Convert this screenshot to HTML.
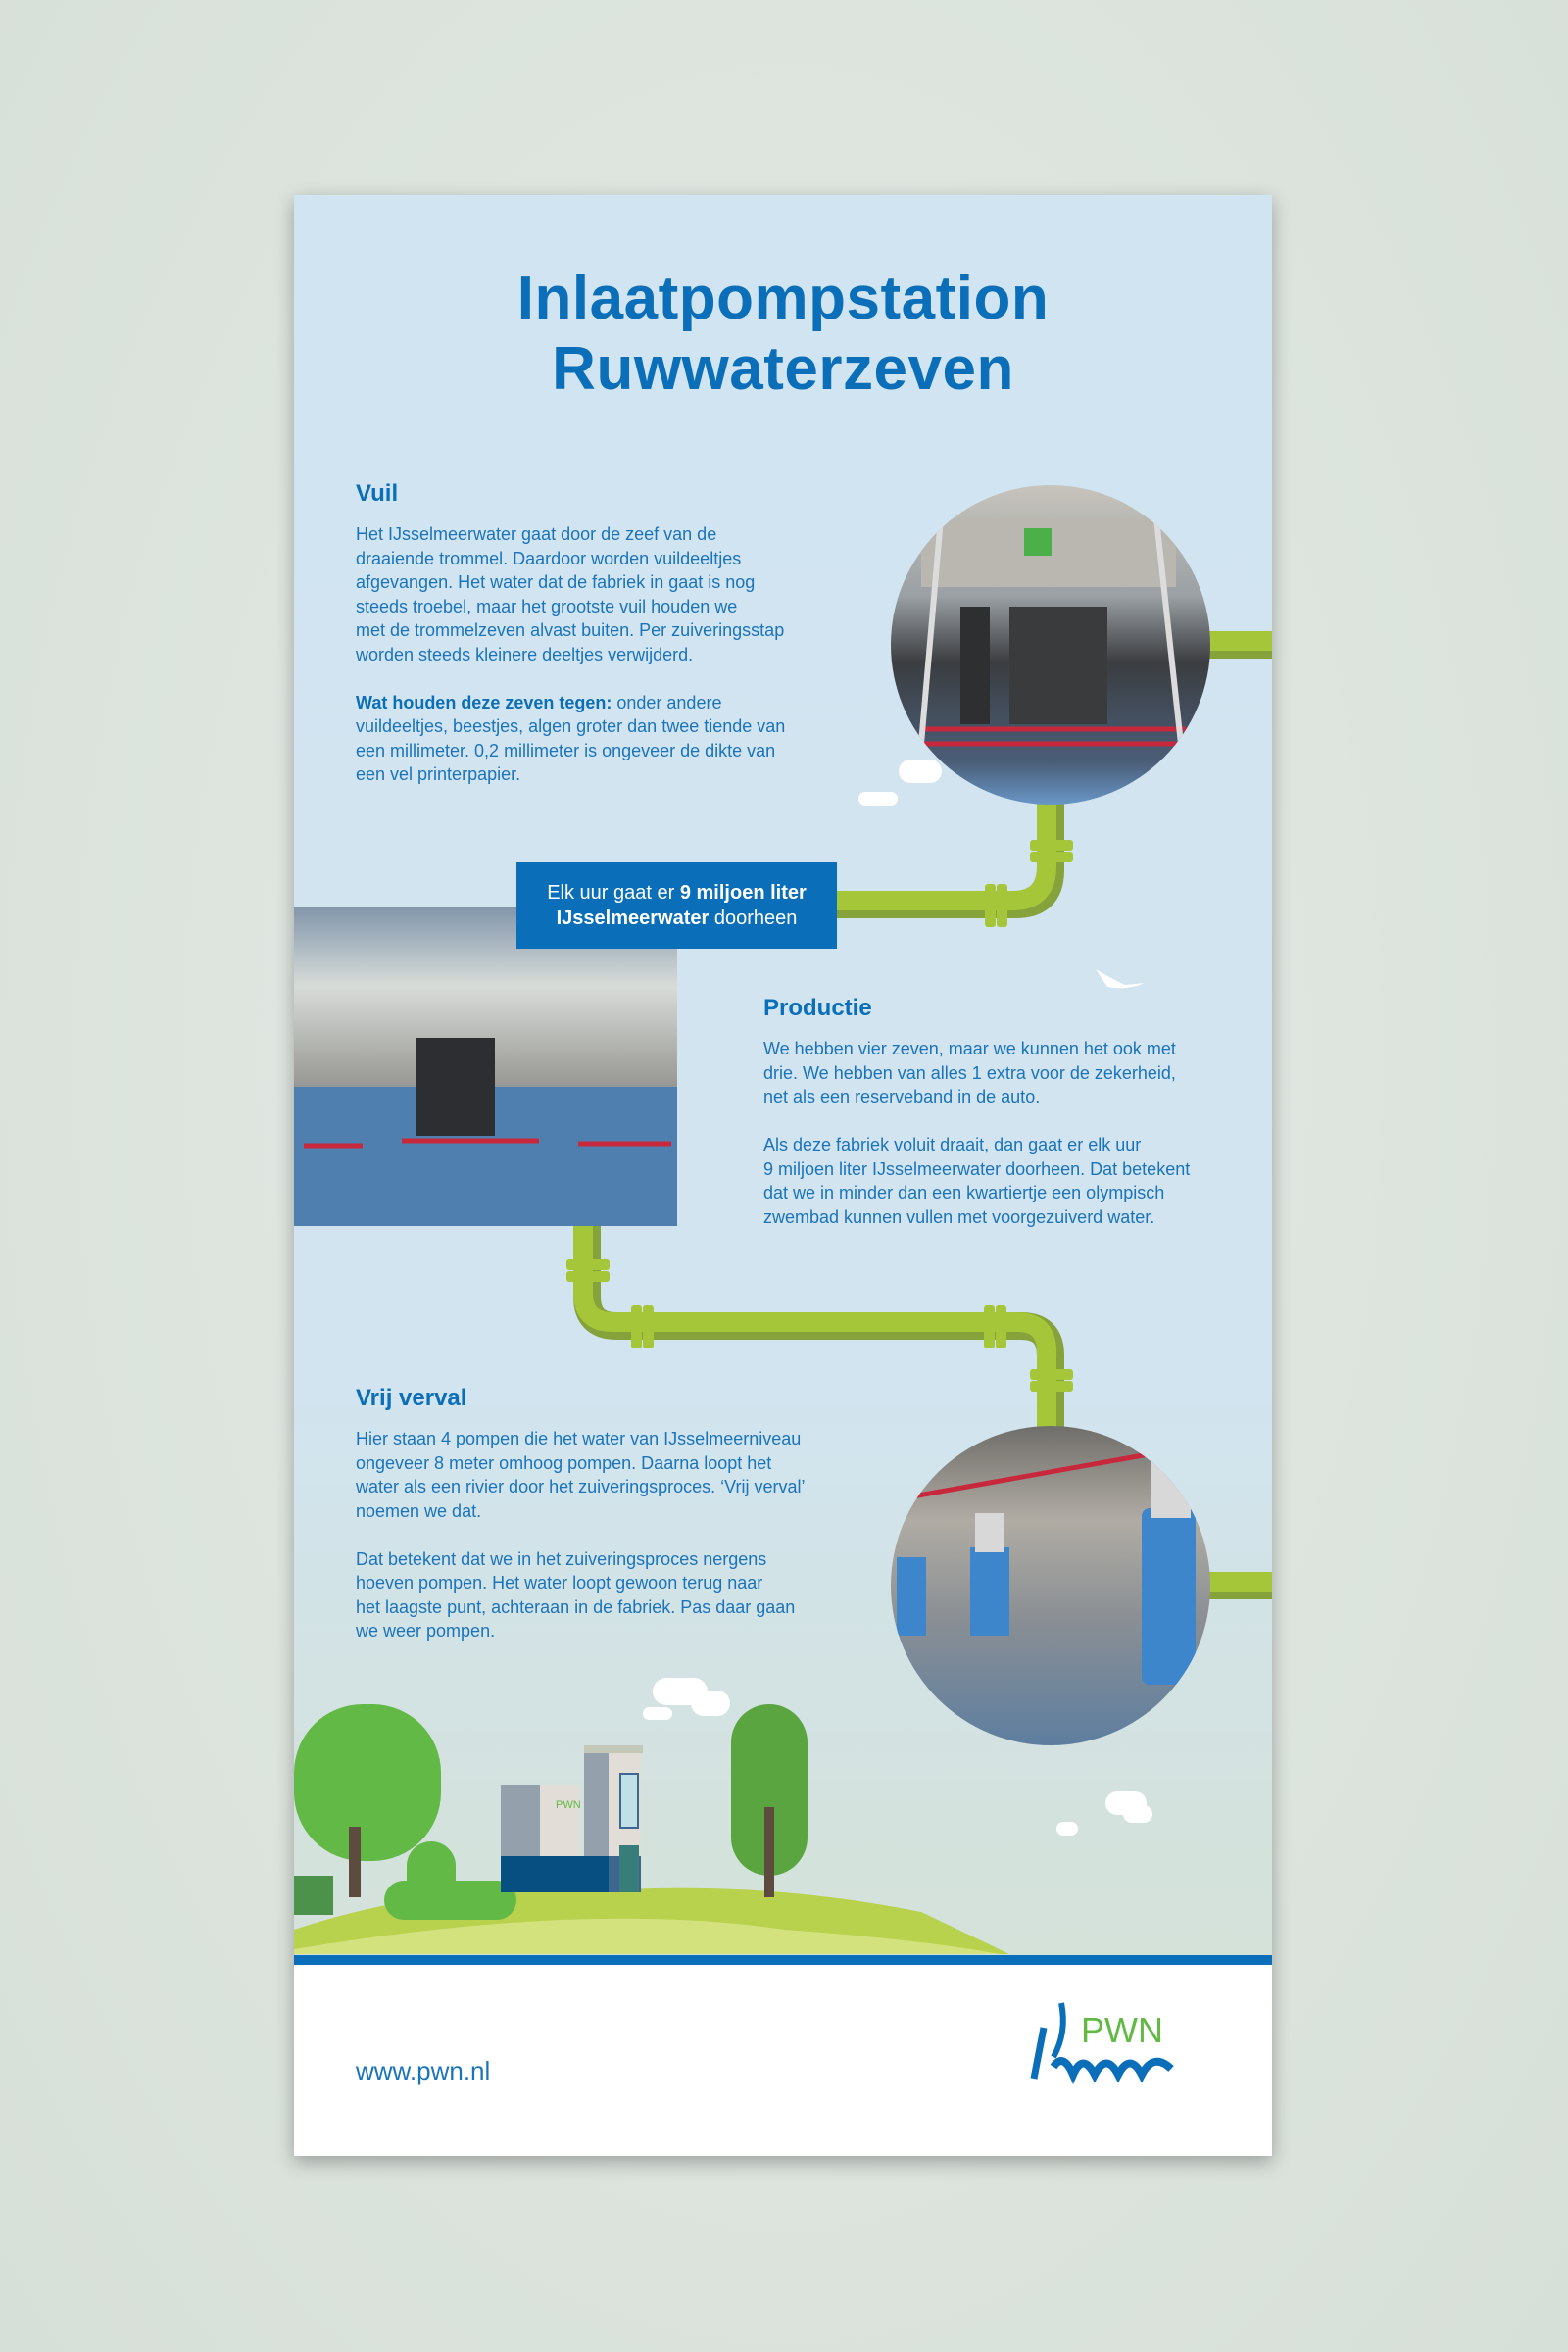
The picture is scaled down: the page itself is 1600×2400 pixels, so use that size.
<!DOCTYPE html>
<html><head><meta charset="utf-8"><style>
*{margin:0;padding:0;box-sizing:border-box}
body{width:1600px;height:2400px;background:radial-gradient(ellipse at 50% 45%,#e6ebe6 0%,#d6dfd8 100%);font-family:"Liberation Sans",sans-serif;position:relative;overflow:hidden}
#poster{position:absolute;left:300px;top:199px;width:998px;height:2001px;background:linear-gradient(#d1e4f1 0%,#d1e4f0 60%,#d4e2dc 85%,#d4e2d6 100%);box-shadow:0 6px 18px rgba(0,0,0,.3);overflow:hidden}
.abs{position:absolute}
h1{position:absolute;left:0;width:998px;top:70px;text-align:center;color:#0a6fb8;font-size:62px;line-height:72px;font-weight:bold;letter-spacing:.5px}
h2{position:absolute;color:#0a6fb8;font-size:24px;font-weight:bold}
.t{position:absolute;color:#1a74bb;font-size:18px;line-height:24.5px;white-space:nowrap}
.t b{color:#0a6fb8}
.cloud{position:absolute;background:#fff;border-radius:20px}
</style></head><body>
<div id="poster">
<h1>Inlaatpompstation<br>Ruwwaterzeven</h1>
<h2 style="left:63px;top:291px">Vuil</h2>
<div class="t" style="left:63px;top:334px">Het IJsselmeerwater gaat door de zeef van de<br>draaiende trommel. Daardoor worden vuildeeltjes<br>afgevangen. Het water dat de fabriek in gaat is nog<br>steeds troebel, maar het grootste vuil houden we<br>met de trommelzeven alvast buiten. Per zuiveringsstap<br>worden steeds kleinere deeltjes verwijderd.<br><br><b>Wat houden deze zeven tegen:</b> onder andere<br>vuildeeltjes, beestjes, algen groter dan twee tiende van<br>een millimeter. 0,2 millimeter is ongeveer de dikte van<br>een vel printerpapier.</div>

<h2 style="left:479px;top:816px">Productie</h2>
<div class="t" style="left:479px;top:859px">We hebben vier zeven, maar we kunnen het ook met<br>drie. We hebben van alles 1 extra voor de zekerheid,<br>net als een reserveband in de auto.<br><br>Als deze fabriek voluit draait, dan gaat er elk uur<br>9 miljoen liter IJsselmeerwater doorheen. Dat betekent<br>dat we in minder dan een kwartiertje een olympisch<br>zwembad kunnen vullen met voorgezuiverd water.</div>

<h2 style="left:63px;top:1214px">Vrij verval</h2>
<div class="t" style="left:63px;top:1257px">Hier staan 4 pompen die het water van IJsselmeerniveau<br>ongeveer 8 meter omhoog pompen. Daarna loopt het<br>water als een rivier door het zuiveringsproces. ‘Vrij verval’<br>noemen we dat.<br><br>Dat betekent dat we in het zuiveringsproces nergens<br>hoeven pompen. Het water loopt gewoon terug naar<br>het laagste punt, achteraan in de fabriek. Pas daar gaan<br>we weer pompen.</div>

<div class="cloud" style="left:617px;top:576px;width:44px;height:24px"></div>
<div class="cloud" style="left:576px;top:609px;width:40px;height:14px"></div>
<div class="cloud" style="left:366px;top:1513px;width:56px;height:28px"></div>
<div class="cloud" style="left:405px;top:1526px;width:40px;height:26px"></div>
<div class="cloud" style="left:356px;top:1543px;width:30px;height:13px"></div>
<div class="cloud" style="left:828px;top:1629px;width:42px;height:24px"></div>
<div class="cloud" style="left:846px;top:1643px;width:30px;height:18px"></div>
<div class="cloud" style="left:778px;top:1660px;width:22px;height:14px"></div>

<svg class="abs" style="left:0;top:0" width="998" height="2001">
<defs>
<linearGradient id="g1" x1="0" y1="0" x2="0" y2="1"><stop offset="0" stop-color="#c9c6bd"/><stop offset=".35" stop-color="#9aa0a4"/><stop offset=".55" stop-color="#3b3d40"/><stop offset=".85" stop-color="#4b5e78"/><stop offset="1" stop-color="#6ea1d6"/></linearGradient>
<linearGradient id="g2" x1="0" y1="0" x2="0" y2="1"><stop offset="0" stop-color="#6c6a66"/><stop offset=".3" stop-color="#b0aca4"/><stop offset=".6" stop-color="#8a8f94"/><stop offset="1" stop-color="#5b7da0"/></linearGradient>
<linearGradient id="g3" x1="0" y1="0" x2="0" y2="1"><stop offset="0" stop-color="#8296ab"/><stop offset=".25" stop-color="#d8dcd8"/><stop offset=".55" stop-color="#9a9a96"/><stop offset=".7" stop-color="#3d6fa6"/><stop offset="1" stop-color="#5580aa"/></linearGradient>
<clipPath id="c1"><circle cx="772" cy="459" r="163"/></clipPath>
<clipPath id="c2"><circle cx="772" cy="1419" r="163"/></clipPath>
</defs>
<g fill="none" stroke-linecap="butt">
<path d="M934 459H998M934 1419H998" stroke="#86a23a" stroke-width="28"/>
<path d="M934 455H998M934 1415H998" stroke="#a4c638" stroke-width="20"/>
<path d="M772 560V689Q772 724 737 724H250" stroke="#86a23a" stroke-width="28"/>
<path d="M768 560V685Q768 720 733 720H250" stroke="#a4c638" stroke-width="20"/>
<path d="M299 1050V1124Q299 1154 329 1154H742Q772 1154 772 1184V1260" stroke="#86a23a" stroke-width="28"/>
<path d="M295 1050V1120Q295 1150 325 1150H738Q768 1150 768 1180V1260" stroke="#a4c638" stroke-width="20"/>
</g>
<g fill="#a4c638">
<rect x="751" y="658" width="44" height="11" rx="3"/><rect x="751" y="670" width="44" height="11" rx="3"/>
<rect x="705" y="703" width="11" height="44" rx="3"/><rect x="717" y="703" width="11" height="44" rx="3"/>
<rect x="278" y="1086" width="44" height="11" rx="3"/><rect x="278" y="1098" width="44" height="11" rx="3"/>
<rect x="344" y="1133" width="11" height="44" rx="3"/><rect x="356" y="1133" width="11" height="44" rx="3"/>
<rect x="704" y="1133" width="11" height="44" rx="3"/><rect x="716" y="1133" width="11" height="44" rx="3"/>
<rect x="751" y="1198" width="44" height="11" rx="3"/><rect x="751" y="1210" width="44" height="11" rx="3"/>
</g>
<g clip-path="url(#c1)">
<rect x="600" y="290" width="350" height="340" fill="url(#g1)"/>
<rect x="640" y="330" width="260" height="70" fill="#b9b7b0"/>
<path d="M640 545H910M640 560H910" stroke="#c8283c" stroke-width="5"/>
<path d="M660 330L640 560M880 330L905 560" stroke="#dcdcdc" stroke-width="6"/>
<rect x="680" y="420" width="30" height="120" fill="#2d2f31"/><rect x="730" y="420" width="100" height="120" fill="#3a3b3d"/>
<rect x="745" y="340" width="28" height="28" fill="#4bb04a"/>
</g>
<g clip-path="url(#c2)">
<rect x="600" y="1250" width="350" height="340" fill="url(#g2)"/>
<path d="M620 1330L900 1280" stroke="#c8283c" stroke-width="5"/>
<rect x="865" y="1340" width="55" height="180" rx="8" fill="#3d86cc"/><rect x="875" y="1290" width="40" height="60" fill="#d8d8d8"/>
<rect x="690" y="1380" width="40" height="90" fill="#3d86cc"/><rect x="695" y="1345" width="30" height="40" fill="#d8d8d8"/>
<rect x="615" y="1390" width="30" height="80" fill="#3d86cc"/>
</g>
<rect x="0" y="726" width="391" height="326" fill="url(#g3)"/>
<rect x="0" y="910" width="391" height="142" fill="#4f7fae"/>
<path d="M10 970H70M110 965H250M290 968H385" stroke="#c8283c" stroke-width="5"/>
<rect x="125" y="860" width="80" height="100" fill="#2c2e31"/>
<path d="M818 790Q835 800 848 806L868 804Q850 812 830 808Z" fill="#fff"/>
<path d="M0 1770Q150 1720 320 1730Q480 1720 640 1752Q720 1790 730 1795H0Z" fill="#b9d24e"/>
<path d="M0 1790Q300 1740 500 1770Q640 1780 720 1795H0Z" fill="#d3e27d"/>
<rect x="0" y="1540" width="150" height="160" rx="70" fill="#63b946"/>
<rect x="56" y="1665" width="12" height="72" fill="#5e4b3f"/>
<rect x="446" y="1540" width="78" height="175" rx="39" fill="#5aa540"/>
<rect x="480" y="1645" width="10" height="92" fill="#5e4b3f"/>
<rect x="0" y="1715" width="40" height="40" fill="#4d924a"/>
<rect x="115" y="1680" width="50" height="80" rx="25" fill="#63b946"/>
<rect x="92" y="1720" width="135" height="40" rx="20" fill="#63b946"/>
<rect x="211" y="1622" width="40" height="110" fill="#94a0ab"/>
<rect x="251" y="1622" width="40" height="110" fill="#e2ddd7"/>
<rect x="296" y="1588" width="25" height="144" fill="#94a0ab"/>
<rect x="321" y="1588" width="33" height="144" fill="#e2ddd7"/>
<rect x="296" y="1582" width="60" height="8" fill="#c3c8b9"/>
<rect x="211" y="1695" width="143" height="37" fill="#064f80"/>
<rect x="321" y="1695" width="33" height="37" fill="#3d6790"/>
<rect x="332" y="1684" width="20" height="48" fill="#377e7a"/>
<rect x="333" y="1611" width="18" height="55" fill="#bfe0e6" stroke="#3d6790" stroke-width="2"/>
<text x="267" y="1646" font-size="11" fill="#63b946" font-family="Liberation Sans">PWN</text>
</svg>
<div class="abs" style="left:227px;top:681px;width:327px;height:88px;background:#0a6fb8;color:#fff;font-size:20px;line-height:26px;text-align:center;padding-top:18px">Elk uur gaat er <b>9 miljoen liter<br>IJsselmeerwater</b> doorheen</div>
<div class="abs" style="left:0;top:1796px;width:998px;height:10px;background:#0a6fb8"></div>
<div class="abs" style="left:0;top:1806px;width:998px;height:195px;background:#fff"></div>
<div class="abs" style="left:63px;top:1899px;color:#1a74bb;font-size:26px">www.pwn.nl</div>
<svg class="abs" style="left:745px;top:1840px" width="200" height="90">
<path d="M10 82L20 30" stroke="#0a6fb8" stroke-width="7"/>
<path d="M38 5Q44 35 30 60" stroke="#0a6fb8" stroke-width="6" fill="none"/>
<path d="M30 70Q40 55 50 78Q60 55 72 78Q84 55 96 78Q108 55 120 78Q132 55 150 72" stroke="#0a6fb8" stroke-width="8" fill="none"/>
<text x="58" y="45" font-size="36" fill="#63b946" font-family="Liberation Sans">PWN</text>
</svg>
</div>
</body></html>
